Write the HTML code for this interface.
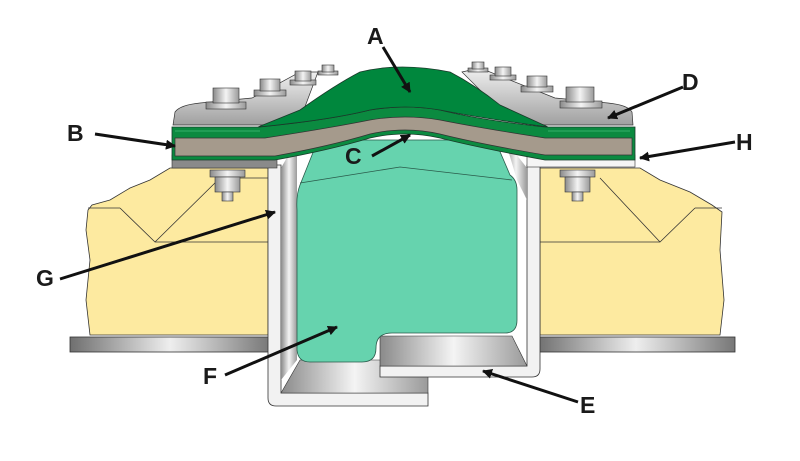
<!DOCTYPE html>
<html><head><style>
html,body{margin:0;padding:0;background:#fff;width:800px;height:461px;overflow:hidden}
text{font-family:"Liberation Sans",Arial,sans-serif;font-weight:bold;font-size:23px;fill:#1a1a1a}
</style></head><body>
<svg width="800" height="461" viewBox="0 0 800 461" xmlns="http://www.w3.org/2000/svg">
<defs>
<linearGradient id="met" x1="0" y1="0" x2="1" y2="0">
<stop offset="0" stop-color="#8a8a8a"/><stop offset="0.5" stop-color="#f4f4f4"/><stop offset="1" stop-color="#9a9a9a"/></linearGradient>
<linearGradient id="metv" x1="0" y1="0" x2="0" y2="1">
<stop offset="0" stop-color="#f0f0f0"/><stop offset="1" stop-color="#a0a0a0"/></linearGradient>
<linearGradient id="plate" x1="0" y1="0" x2="1" y2="0">
<stop offset="0" stop-color="#6f6f6f"/><stop offset="0.5" stop-color="#eeeeee"/><stop offset="1" stop-color="#777"/></linearGradient>
<marker id="ah" markerWidth="10" markerHeight="10" refX="9" refY="5" orient="auto" markerUnits="userSpaceOnUse" viewBox="0 0 10 10">
<path d="M0,0 L10,5 L0,10 z" fill="#111"/></marker>
</defs>
<path d="M88,210 L92,205 L110,200 L130,188 L150,180 L170,168 L268,168 L268,335 L90,335 L86,300 L90,260 L86,230 Z" fill="#fdeaa0" stroke="#333" stroke-width="0.8"/>
<path d="M120,208 L155,242 L268,242 M120,208 L88,208 M155,242 L220,178 M220,178 L268,178" fill="none" stroke="#333" stroke-width="0.8"/>
<path d="M540,168 L640,168 L660,180 L690,192 L712,205 L722,212 L720,250 L724,300 L720,335 L540,335 Z" fill="#fdeaa0" stroke="#333" stroke-width="0.8"/>
<path d="M695,208 L660,242 L540,242 M695,208 L722,208 M660,242 L600,178" fill="none" stroke="#333" stroke-width="0.8"/>
<rect x="70" y="337" width="200" height="15" fill="url(#plate)" stroke="#333" stroke-width="0.8"/>
<rect x="537" y="337" width="198" height="15" fill="url(#plate)" stroke="#333" stroke-width="0.8"/>
<path d="M268,165 L281,165 L281,393 L428,393 L428,406 L276,406 Q268,406 268,398 Z" fill="#f2f2f2" stroke="#333" stroke-width="0.8"/>
<path d="M281,393 L300,360 L428,360 L428,393 Z" fill="url(#met)" stroke="#333" stroke-width="0.6"/>
<path d="M527,165 L540,165 L540,369 Q540,377 532,377 L380,377 L380,366 L527,366 Z" fill="#f2f2f2" stroke="#333" stroke-width="0.8"/>
<path d="M380,366 L380,336 L512,336 L527,366 Z" fill="url(#met)" stroke="#333" stroke-width="0.6"/>
<path d="M281,168 L297,140 L297,360 L281,380 Z" fill="url(#met)"/>
<path d="M527,168 L505,140 L517,180 L527,200 Z" fill="url(#met)"/>
<path d="M318,140 L300,185 Q296,195 297,210 L297,350 Q298,362 310,362 L362,362 Q376,362 376,348 Q376,333 392,333 L505,333 Q517,333 517,320 L517,190 Q517,180 510,175 L495,140 Z" fill="#66d3ae" stroke="#2a5a4a" stroke-width="0.8"/>
<path d="M300,183 L400,167 L512,180" fill="none" stroke="#2a5a4a" stroke-width="0.8"/>
<rect x="210" y="170" width="35" height="7" fill="url(#met)" stroke="#333" stroke-width="0.6"/>
<rect x="215" y="177" width="25" height="15" fill="url(#met)" stroke="#333" stroke-width="0.6"/>
<rect x="222" y="192" width="11" height="9" fill="url(#met)" stroke="#333" stroke-width="0.6"/>
<rect x="560" y="170" width="35" height="7" fill="url(#met)" stroke="#333" stroke-width="0.6"/>
<rect x="565" y="177" width="25" height="15" fill="url(#met)" stroke="#333" stroke-width="0.6"/>
<rect x="572" y="192" width="11" height="9" fill="url(#met)" stroke="#333" stroke-width="0.6"/>
<rect x="172" y="155" width="105" height="13" fill="#8a8a8a" stroke="#333" stroke-width="0.6"/>
<rect x="527" y="155" width="108" height="12" fill="#f5f5f5" stroke="#333" stroke-width="0.6"/>
<path d="M172,127 L260,127 Q330,120 370,110 Q405,104 440,110 Q480,120 545,127 L635,127 L635,160 L545,160 Q480,148 440,138 Q405,130 370,138 Q330,150 275,160 L172,160 Z" fill="#0b8a40" stroke="#1a3a2a" stroke-width="0.8"/>
<path d="M175,138 L265,138 Q330,128 370,120 Q405,114 440,120 Q480,128 545,138 L632,138 L632,155 L545,155 Q480,144 440,134 Q405,126 370,134 Q330,146 275,156 L175,156 Z" fill="#a59a8c" stroke="#333" stroke-width="0.7"/>
<path d="M173,125 L175,112 Q180,105 200,103 L252,98 L300,72 L318,72 L300,120 L262,125 Z" fill="url(#metv)" stroke="#333" stroke-width="0.7"/>
<path d="M633,125 L632,112 Q628,105 608,103 L555,98 L480,68 L462,72 L510,120 L545,125 Z" fill="url(#metv)" stroke="#333" stroke-width="0.7"/>
<path d="M258,127 L300,110 Q335,85 360,72 Q400,62 450,72 Q475,85 500,105 L548,127 Q480,118 440,110 Q405,104 370,110 Q330,120 258,127 Z" fill="#00873d" stroke="#1a3a2a" stroke-width="0.8"/>
<line x1="175" y1="131" x2="260" y2="131" stroke="#35b06a" stroke-width="1"/>
<line x1="548" y1="131" x2="630" y2="131" stroke="#35b06a" stroke-width="1"/>
<g stroke="#333" stroke-width="0.6" fill="url(#met)">
<rect x="206" y="102" width="40" height="7"/><rect x="213" y="88" width="26" height="15"/>
<rect x="254" y="90" width="32" height="6"/><rect x="260" y="79" width="20" height="12"/>
<rect x="290" y="80" width="26" height="5"/><rect x="295" y="71" width="16" height="10"/>
<rect x="318" y="71" width="20" height="4"/><rect x="322" y="65" width="12" height="7"/>
<rect x="560" y="101" width="42" height="7"/><rect x="566" y="87" width="28" height="15"/>
<rect x="521" y="86" width="32" height="6"/><rect x="527" y="76" width="20" height="11"/>
<rect x="490" y="75" width="26" height="5"/><rect x="495" y="67" width="16" height="9"/>
<rect x="468" y="68" width="20" height="4"/><rect x="472" y="62" width="12" height="7"/>
</g>
<g stroke="#111" stroke-width="3" fill="none" marker-end="url(#ah)">
<line x1="383" y1="47" x2="410" y2="92"/>
<line x1="95" y1="134" x2="175" y2="146"/>
<line x1="683" y1="87" x2="608" y2="118"/>
<line x1="372" y1="156" x2="410" y2="135"/>
<line x1="735" y1="142" x2="640" y2="158"/>
<line x1="60" y1="279" x2="275" y2="212"/>
<line x1="225" y1="375" x2="337" y2="327"/>
<line x1="578" y1="402" x2="483" y2="371"/>
</g>
<text x="367" y="44">A</text>
<text x="67" y="141">B</text>
<text x="345" y="164">C</text>
<text x="682" y="90">D</text>
<text x="736" y="150">H</text>
<text x="36" y="286">G</text>
<text x="203" y="384">F</text>
<text x="580" y="413">E</text>
</svg>
</body></html>
